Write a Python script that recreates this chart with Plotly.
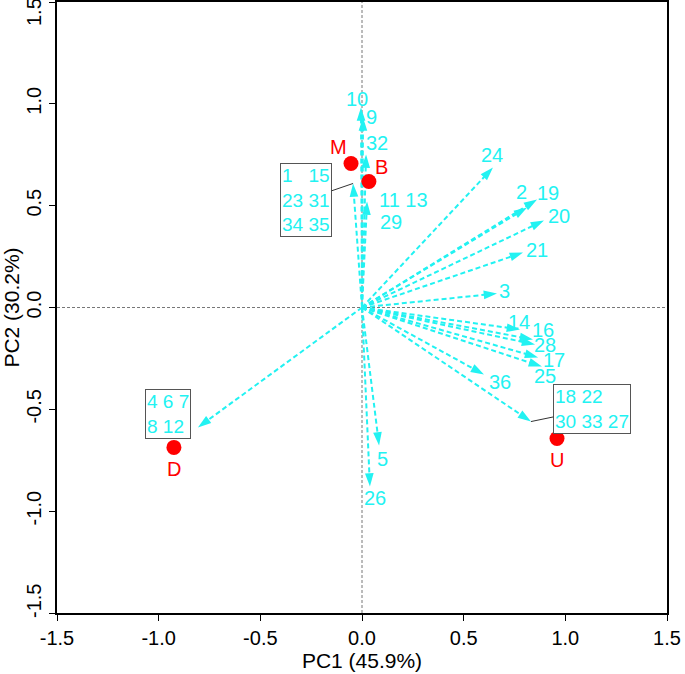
import plotly.graph_objects as go

# ---- data ----
# loading vectors (arrow tips)
var_labels = ["24", "2", "19", "20", "21", "3", "14", "16", "28", "17", "25", "36",
              "18 22 30 33 27", "5", "26", "4 6 7 8 12", "10", "9", "32",
              "1 15 23 31 34 35", "11 13 29"]
var_pc1 = [0.644, 0.812, 0.861, 0.895, 0.792, 0.664, 0.777, 0.841, 0.851, 0.866, 0.885, 0.600,
           0.831, 0.084, 0.039, -0.807, -0.005, 0.005, 0.020, -0.044, 0.025]
var_pc2 = [0.687, 0.491, 0.530, 0.427, 0.270, 0.069, -0.108, -0.157, -0.182, -0.245, -0.290, -0.329,
           -0.560, -0.677, -0.879, -0.589, 0.982, 0.933, 0.751, 0.609, 0.520]

# sample scores
site_labels = ["M", "B", "D", "U"]
site_pc1 = [-0.054, 0.034, -0.925, 0.959]
site_pc2 = [0.707, 0.619, -0.687, -0.643]

x_title = "PC1 (45.9%)"
y_title = "PC2 (30.2%)"
tick_vals = [-1.5, -1.0, -0.5, 0.0, 0.5, 1.0, 1.5]
tick_text = ["-1.5", "-1.0", "-0.5", "0.0", "0.5", "1.0", "1.5"]

# ---- label placement (layout) ----
single_label_pos = {
    "24": (0.640, 0.751), "2": (0.782, 0.565), "19": (0.915, 0.560), "20": (0.969, 0.447),
    "21": (0.861, 0.280), "3": (0.703, 0.083), "14": (0.772, -0.069), "16": (0.890, -0.108),
    "28": (0.900, -0.182), "17": (0.944, -0.260), "25": (0.900, -0.334), "36": (0.679, -0.368),
    "5": (0.103, -0.746), "26": (0.064, -0.933), "10": (-0.025, 1.026), "9": (0.049, 0.933),
    "32": (0.074, 0.810),
}
site_label_pos = {"M": (-0.118, 0.790), "B": (0.098, 0.690), "D": (-0.925, -0.795), "U": (0.959, -0.748)}

CYAN = "#22F2F2"
FONT = "Liberation Sans, Arial, sans-serif"

fig = go.Figure()

# zero reference lines
fig.add_shape(type="line", x0=-1.5, x1=1.5, y0=0, y1=0, xref="x", yref="y",
              line=dict(color="#777777", width=1, dash="3px,2px"), layer="below")
fig.add_shape(type="line", x0=0, x1=0, y0=-1.5, y1=1.5, xref="x", yref="y",
              line=dict(color="#777777", width=1, dash="3px,2px"), layer="below")

# arrows
for lab, px, py in zip(var_labels, var_pc1, var_pc2):
    fig.add_trace(go.Scatter(
        x=[0, px], y=[0, py], mode="lines+markers",
        line=dict(color=CYAN, width=2, dash="5px,3px"),
        marker=dict(symbol="arrow", size=[0, 14], color=CYAN, angleref="previous",
                    opacity=[0, 1], line=dict(width=0)),
        hoverinfo="skip", showlegend=False, cliponaxis=False))

# sample points
fig.add_trace(go.Scatter(x=site_pc1, y=site_pc2, mode="markers",
                         marker=dict(color="#FF0000", size=15, line=dict(width=0)),
                         showlegend=False, hoverinfo="skip"))

annotations = []
lab_font = dict(family=FONT, size=20, color=CYAN)
for lab, (lx, ly) in single_label_pos.items():
    annotations.append(dict(x=lx, y=ly, xref="x", yref="y", text=lab, showarrow=False,
                            font=lab_font))
annotations.append(dict(x=0.206, y=0.530, xref="x", yref="y", text="11 13", showarrow=False,
                        font=lab_font))
annotations.append(dict(x=0.142, y=0.422, xref="x", yref="y", text="29", showarrow=False,
                        font=lab_font))

for lab, (lx, ly) in site_label_pos.items():
    annotations.append(dict(x=lx, y=ly, xref="x", yref="y", text=lab, showarrow=False,
                            font=dict(family=FONT, size=20, color="#FF0000")))

# grouped-label boxes
idx_g1 = var_labels.index("1 15 23 31 34 35")
idx_gu = var_labels.index("18 22 30 33 27")
box_font = dict(family=FONT, size=19, color=CYAN)
annotations.append(dict(x=var_pc1[idx_g1], y=var_pc2[idx_g1], xref="x", yref="y",
                        ax=-0.275, ay=0.530, axref="x", ayref="y",
                        text="1   15<br>23 31<br>34 35", align="left",
                        showarrow=True, arrowhead=0, arrowwidth=1, arrowcolor="#333333",
                        bgcolor="white", bordercolor="#555555", borderwidth=1, borderpad=1,
                        font=box_font))
annotations.append(dict(x=var_pc1[idx_gu], y=var_pc2[idx_gu], xref="x", yref="y",
                        ax=1.131, ay=-0.498, axref="x", ayref="y",
                        text="18 22<br>30 33 27", align="left",
                        showarrow=True, arrowhead=0, arrowwidth=1, arrowcolor="#333333",
                        bgcolor="white", bordercolor="#555555", borderwidth=1, borderpad=1,
                        font=box_font))
annotations.append(dict(x=-0.952, y=-0.525, xref="x", yref="y",
                        text="4 6 7<br>8 12", align="left", showarrow=False,
                        bgcolor="white", bordercolor="#555555", borderwidth=1, borderpad=1,
                        font=box_font))

# end-of-axis y tick labels, nudged inward like the reference
tick_font = dict(family=FONT, size=20, color="black")
annotations.append(dict(x=0, y=tick_vals[-1], xref="paper", yref="y", text=tick_text[-1],
                        xanchor="center", yanchor="middle",
                        showarrow=False, textangle=-90, xshift=-23, yshift=-10, font=tick_font))
annotations.append(dict(x=0, y=tick_vals[0], xref="paper", yref="y", text=tick_text[0],
                        xanchor="center", yanchor="middle",
                        showarrow=False, textangle=-90, xshift=-23, yshift=12, font=tick_font))
y_ticktext = [""] + tick_text[1:-1] + [""]

fig.update_layout(
    width=685, height=674,
    margin=dict(l=57, r=18, t=2, b=61),
    plot_bgcolor="white", paper_bgcolor="white",
    font=dict(family=FONT, size=20, color="black"),
    annotations=annotations,
    showlegend=False,
)
fig.update_xaxes(range=[-1.5, 1.5], tickvals=tick_vals, ticktext=tick_text,
                 showgrid=False, zeroline=False, showline=True, linecolor="black", linewidth=2,
                 mirror=True, ticks="outside", ticklen=6, tickwidth=1, tickcolor="black",
                 tickfont=tick_font, ticklabeloverflow="allow",
                 title=dict(text=x_title, font=dict(family=FONT, size=21, color="black"), standoff=2),
                 automargin=False)
fig.update_yaxes(range=[-1.5, 1.5], tickvals=tick_vals, ticktext=y_ticktext,
                 showgrid=False, zeroline=False, showline=True, linecolor="black", linewidth=2,
                 mirror=True, ticks="outside", ticklen=6, tickwidth=1, tickcolor="black",
                 tickangle=-90, ticklabeloverflow="allow",
                 tickfont=tick_font,
                 title=dict(text=y_title, font=dict(family=FONT, size=21, color="black"), standoff=2),
                 automargin=False)

fig.write_html("out.html", config={"displayModeBar": False},
               post_script="document.body.style.margin='0';document.body.style.overflow='hidden';")
